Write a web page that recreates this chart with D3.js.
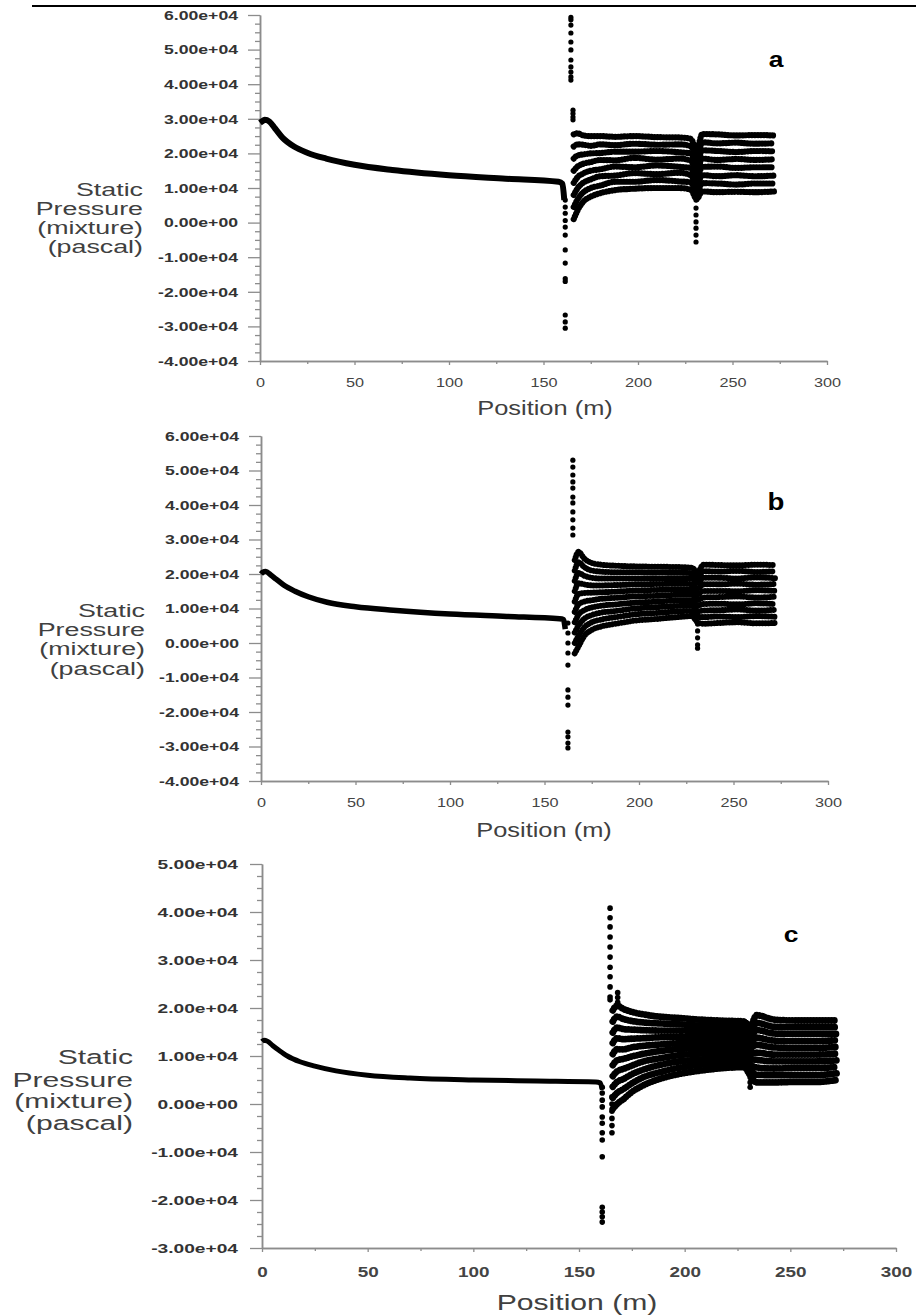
<!DOCTYPE html>
<html>
<head>
<meta charset="utf-8">
<script src="https://cdn.jsdelivr.net/npm/d3@7"></script>
<style>
  body { margin: 0; background: #fff; }
  svg text { font-family: Arial, "Liberation Sans", sans-serif; }
</style>
</head>
<body>
<svg width="916" height="1316"></svg>
<script>
//* Static pressure (mixture) along the pipe, three cases a, b, c
// pressures are in 1e4 Pa, positions in m

// smooth part of the profile (0 - 161 m)
const curvePos = [0, 1, 2.5, 5, 8, 12, 18, 25, 35, 50, 70, 100, 130, 158, 160, 161];
const curveA = [2.88, 2.92, 2.97, 2.92, 2.72, 2.45, 2.20, 2.02, 1.85, 1.67, 1.52, 1.37, 1.27, 1.18, 1.12, 0.65];
const curveB = [2.00, 2.05, 2.07, 1.98, 1.85, 1.68, 1.50, 1.34, 1.18, 1.05, 0.95, 0.84, 0.77, 0.70, 0.68, 0.40];
const curveC = [1.30, 1.33, 1.31, 1.22, 1.12, 1.00, 0.88, 0.79, 0.69, 0.60, 0.54, 0.50, 0.48, 0.46, 0.44, 0.30];

// isolated dot columns (spikes)
const dotPosA = [161.5, 164.5, 165.6, 230.7];
const dotValsA = [
  [0.65, 0.45, 0.27, 0.06, -0.13, -0.36, -0.79, -1.17, -1.62, -1.70, -2.67, -2.87, -3.05],
  [5.93, 5.86, 5.71, 5.48, 5.22, 4.99, 4.70, 4.50, 4.35, 4.21, 4.12],
  [3.25, 3.15, 3.05, 2.97],
  [0.65, 0.42, 0.22, 0.02, -0.16, -0.36, -0.56]
];
const dotPosB = [162.4, 165, 231];
const dotValsB = [
  [0.58, 0.29, 0.00, -0.29, -0.64, -1.36, -1.57, -1.80, -2.58, -2.72, -2.90, -3.04],
  [5.30, 5.10, 4.87, 4.67, 4.49, 4.23, 4.06, 3.80, 3.57, 3.33, 3.13],
  [0.55, 0.35, 0.15, -0.05, -0.15]
];
const dotPosC = [161, 164.7, 165.6, 168.3, 231];
const dotValsC = [
  [0.35, 0.23, 0.08, -0.06, -0.27, -0.40, -0.60, -0.75, -1.10, -2.15, -2.25, -2.35, -2.46],
  [4.08, 3.88, 3.69, 3.48, 3.27, 3.06, 2.85, 2.65, 2.44, 2.23, 2.17],
  [0.15, 0.00, -0.15, -0.30, -0.45, -0.60],
  [2.32, 2.22, 2.12],
  [0.70, 0.55, 0.45, 0.35]
];

// oscillating band after 166 m, one row per line of dots
const bandPos = [166, 168, 171, 175, 180, 188, 198, 210, 222, 228, 231, 234, 242, 252, 262, 272];
const bandA = [
  [2.55, 2.58, 2.52, 2.50, 2.50, 2.48, 2.50, 2.47, 2.46, 2.42, 2.08, 2.56, 2.55, 2.52, 2.53, 2.52],
  [2.20, 2.26, 2.25, 2.22, 2.26, 2.24, 2.28, 2.25, 2.26, 2.21, 1.88, 2.32, 2.29, 2.31, 2.28, 2.29],
  [1.85, 1.94, 1.97, 2.00, 2.01, 2.05, 2.05, 2.07, 2.03, 2.00, 1.68, 2.09, 2.07, 2.04, 2.07, 2.06],
  [1.50, 1.62, 1.70, 1.75, 1.81, 1.80, 1.87, 1.82, 1.85, 1.79, 1.48, 1.85, 1.81, 1.84, 1.81, 1.83],
  [1.15, 1.31, 1.42, 1.50, 1.54, 1.62, 1.60, 1.65, 1.61, 1.58, 1.28, 1.61, 1.62, 1.58, 1.60, 1.60],
  [0.80, 0.99, 1.15, 1.25, 1.34, 1.36, 1.43, 1.40, 1.44, 1.37, 1.08, 1.37, 1.34, 1.37, 1.34, 1.36],
  [0.45, 0.67, 0.87, 1.00, 1.07, 1.18, 1.18, 1.23, 1.19, 1.16, 0.88, 1.14, 1.13, 1.10, 1.13, 1.13],
  [0.10, 0.35, 0.60, 0.75, 0.85, 0.94, 0.98, 1.00, 1.00, 0.95, 0.68, 0.90, 0.88, 0.89, 0.88, 0.90]
];
const bandB = [
  [2.40, 2.64, 2.45, 2.32, 2.27, 2.24, 2.22, 2.21, 2.20, 2.18, 2.05, 2.27, 2.26, 2.25, 2.27, 2.26],
  [2.10, 2.34, 2.20, 2.10, 2.07, 2.05, 2.05, 2.04, 2.04, 2.02, 1.89, 2.08, 2.07, 2.09, 2.06, 2.08],
  [1.80, 2.03, 1.95, 1.89, 1.87, 1.87, 1.87, 1.87, 1.88, 1.87, 1.73, 1.89, 1.89, 1.87, 1.90, 1.88],
  [1.50, 1.73, 1.70, 1.67, 1.67, 1.68, 1.70, 1.71, 1.72, 1.71, 1.57, 1.70, 1.70, 1.72, 1.69, 1.71],
  [1.20, 1.42, 1.45, 1.46, 1.47, 1.49, 1.52, 1.54, 1.56, 1.56, 1.41, 1.51, 1.51, 1.50, 1.53, 1.51],
  [0.90, 1.12, 1.20, 1.24, 1.28, 1.31, 1.35, 1.37, 1.40, 1.40, 1.24, 1.32, 1.33, 1.35, 1.32, 1.34],
  [0.60, 0.82, 0.95, 1.03, 1.08, 1.12, 1.17, 1.20, 1.24, 1.24, 1.08, 1.13, 1.14, 1.12, 1.15, 1.13],
  [0.30, 0.51, 0.70, 0.81, 0.88, 0.93, 1.00, 1.04, 1.08, 1.09, 0.92, 0.94, 0.95, 0.97, 0.94, 0.96],
  [0.00, 0.21, 0.45, 0.60, 0.68, 0.75, 0.83, 0.87, 0.92, 0.93, 0.76, 0.75, 0.77, 0.75, 0.78, 0.76],
  [-0.30, -0.10, 0.20, 0.38, 0.48, 0.56, 0.65, 0.70, 0.76, 0.78, 0.60, 0.56, 0.58, 0.60, 0.57, 0.58]
];
const bandC = [
  [1.95, 2.05, 1.98, 1.92, 1.87, 1.82, 1.79, 1.75, 1.73, 1.72, 1.62, 1.85, 1.76, 1.74, 1.74, 1.74],
  [1.72, 1.82, 1.77, 1.73, 1.70, 1.68, 1.66, 1.63, 1.62, 1.61, 1.51, 1.69, 1.61, 1.60, 1.60, 1.60],
  [1.49, 1.59, 1.56, 1.55, 1.54, 1.53, 1.53, 1.52, 1.51, 1.51, 1.39, 1.54, 1.47, 1.46, 1.46, 1.46],
  [1.27, 1.37, 1.35, 1.36, 1.37, 1.39, 1.40, 1.40, 1.41, 1.40, 1.28, 1.38, 1.32, 1.31, 1.31, 1.33],
  [1.04, 1.14, 1.14, 1.18, 1.21, 1.24, 1.27, 1.29, 1.30, 1.30, 1.17, 1.23, 1.18, 1.17, 1.17, 1.19],
  [0.81, 0.91, 0.94, 0.99, 1.04, 1.10, 1.15, 1.17, 1.19, 1.19, 1.05, 1.07, 1.03, 1.03, 1.03, 1.05],
  [0.58, 0.68, 0.73, 0.80, 0.88, 0.95, 1.02, 1.06, 1.08, 1.09, 0.94, 0.92, 0.89, 0.89, 0.89, 0.91],
  [0.36, 0.46, 0.52, 0.62, 0.71, 0.81, 0.89, 0.94, 0.98, 0.98, 0.83, 0.76, 0.74, 0.75, 0.75, 0.77],
  [0.13, 0.23, 0.31, 0.43, 0.55, 0.66, 0.76, 0.83, 0.87, 0.88, 0.71, 0.61, 0.60, 0.60, 0.60, 0.64],
  [-0.10, 0.00, 0.10, 0.25, 0.38, 0.52, 0.63, 0.71, 0.76, 0.77, 0.60, 0.45, 0.45, 0.46, 0.46, 0.50]
];

const xTicks = [0, 50, 100, 150, 200, 250, 300];
const yLabelLines = ["Static", "Pressure", "(mixture)", "(pascal)"];

// layout of each panel
const panels = [
  { letter: "a", curve: curveA, dotPos: dotPosA, dotVals: dotValsA, band: bandA,
    xr: [260, 827], yr: [361, 15], yd: [-4, 6],
    tickFont: 12, tickSx: 1.47, tickGap: 22, xlabDy: 26, xTickFont: 13, xTickSx: 1.25, xTickBold: false,
    lab: { x: 143, ys: [196, 215, 234, 253], size: 18.5, sx: 1.45 },
    pos: { x: 545, y: 415, size: 20, sx: 1.27 },
    let: { x: 776, y: 67, size: 22 },
    lineW: 6, dotR: 2.6, bandR: 3.1 },
  { letter: "b", curve: curveB, dotPos: dotPosB, dotVals: dotValsB, band: bandB,
    xr: [261, 828], yr: [781, 436], yd: [-4, 6],
    tickFont: 12, tickSx: 1.47, tickGap: 22, xlabDy: 26, xTickFont: 13, xTickSx: 1.25, xTickBold: false,
    lab: { x: 145, ys: [617, 636, 655, 675], size: 18.5, sx: 1.45 },
    pos: { x: 544, y: 837, size: 20, sx: 1.27 },
    let: { x: 776, y: 510, size: 23 },
    lineW: 5.5, dotR: 2.6, bandR: 3.0 },
  { letter: "c", curve: curveC, dotPos: dotPosC, dotVals: dotValsC, band: bandC,
    xr: [262, 896], yr: [1248, 864], yd: [-3, 5],
    tickFont: 13.5, tickSx: 1.42, tickGap: 24, xlabDy: 29, xTickFont: 14, xTickSx: 1.35, xTickBold: true,
    lab: { x: 133, ys: [1064, 1087, 1108, 1130], size: 20.5, sx: 1.47 },
    pos: { x: 577, y: 1310, size: 22, sx: 1.37 },
    let: { x: 791, y: 942, size: 22 },
    lineW: 5, dotR: 2.8, bandR: 3.4 }
];

const svg = d3.select("svg");

// rule under the previous figure
svg.append("line")
  .attr("x1", 32).attr("x2", 916)
  .attr("y1", 6).attr("y2", 6)
  .attr("stroke", "#000")
  .attr("stroke-width", 2);

function sci(v) {
  // 6.00e+04 style labels
  return (v * 1e4).toExponential(2).replace(/e([+-])(\d)$/, "e$10$2");
}

function styleAxis(g) {
  g.select(".domain").attr("stroke", "#8c8c8c").attr("stroke-width", 1.5);
  g.selectAll(".tick line").attr("stroke", "#8c8c8c").attr("stroke-width", 1.3);
}

panels.forEach(p => {
  const x = d3.scaleLinear().domain([0, 300]).range(p.xr);
  const y = d3.scaleLinear().domain(p.yd).range(p.yr);
  const g = svg.append("g").classed("panel-" + p.letter, true);

  // y axis: majors every 1e4, minors every 2.5e3
  const major = d3.range(p.yd[0], p.yd[1] + 0.001, 1);
  const minor = d3.range(p.yd[0], p.yd[1] + 0.001, 0.25).filter(v => Math.abs(v - Math.round(v)) > 0.01);

  g.append("g")
    .attr("transform", `translate(${p.xr[0]},0)`)
    .call(d3.axisLeft(y).tickValues(minor).tickSize(5).tickSizeOuter(0).tickFormat(""))
    .call(styleAxis);

  const yAxis = g.append("g")
    .attr("transform", `translate(${p.xr[0]},0)`)
    .call(d3.axisLeft(y).tickValues(major).tickSize(12).tickSizeOuter(0).tickFormat(sci))
    .call(styleAxis);
  yAxis.selectAll("text")
    .attr("x", 0)
    .attr("dy", "0.36em")
    .attr("transform", `translate(${-p.tickGap},0) scale(${p.tickSx},1)`)
    .attr("font-size", p.tickFont)
    .attr("font-weight", "bold")
    .attr("fill", "#333");

  // x axis
  g.append("g")
    .attr("transform", `translate(0,${p.yr[0]})`)
    .call(d3.axisBottom(x).tickValues([25, 75, 125, 175, 225, 275]).tickSize(3).tickSizeOuter(0).tickFormat(""))
    .call(styleAxis);
  const xAxis = g.append("g")
    .attr("transform", `translate(0,${p.yr[0]})`)
    .call(d3.axisBottom(x).tickValues(xTicks).tickSize(4).tickSizeOuter(0))
    .call(styleAxis);
  xAxis.selectAll("text")
    .attr("y", p.xlabDy)
    .attr("dy", null)
    .attr("transform", `scale(${p.xTickSx},1)`)
    .attr("font-size", p.xTickFont)
    .attr("font-weight", p.xTickBold ? "bold" : "normal")
    .attr("fill", "#444");

  // axis titles
  const ylab = g.append("g");
  yLabelLines.forEach((t, i) => {
    ylab.append("text")
      .attr("transform", `translate(${p.lab.x},${p.lab.ys[i]}) scale(${p.lab.sx},1)`)
      .attr("text-anchor", "end")
      .attr("font-size", p.lab.size)
      .attr("fill", "#404040")
      .text(t);
  });
  g.append("text")
    .attr("transform", `translate(${p.pos.x},${p.pos.y}) scale(${p.pos.sx},1)`)
    .attr("text-anchor", "middle")
    .attr("font-size", p.pos.size)
    .attr("fill", "#404040")
    .text("Position (m)");

  // panel letter
  g.append("text")
    .attr("transform", `translate(${p.let.x},${p.let.y}) scale(1.2,1)`)
    .attr("text-anchor", "middle")
    .attr("font-size", p.let.size)
    .attr("font-weight", "bold")
    .attr("fill", "#000")
    .text(p.letter);

  // smooth decaying profile
  const line = d3.line()
    .x((d, i) => x(curvePos[i]))
    .y(d => y(d))
    .curve(d3.curveMonotoneX);
  g.append("path")
    .datum(p.curve)
    .attr("d", line)
    .attr("fill", "none")
    .attr("stroke", "#000")
    .attr("stroke-width", p.lineW)
    .attr("stroke-linejoin", "round");

  // band rows, drawn as strings of dots
  const rowLine = d3.line()
    .x((d, i) => x(bandPos[i]))
    .y(d => y(d))
    .curve(d3.curveMonotoneX);
  g.append("g")
    .selectAll("path")
    .data(p.band)
    .join("path")
      .attr("d", rowLine)
      .attr("fill", "none")
      .attr("stroke", "#000")
      .attr("stroke-width", p.bandR * 2)
      .attr("stroke-linecap", "round")
      .attr("stroke-dasharray", "0.01 3");

  // spike dots
  const dots = p.dotVals.flatMap((vals, i) => vals.map(v => [p.dotPos[i], v]));
  g.append("g")
    .selectAll("circle")
    .data(dots)
    .join("circle")
      .attr("cx", d => x(d[0]))
      .attr("cy", d => y(d[1]))
      .attr("r", p.dotR)
      .attr("fill", "#000");
});
</script>
</body>
</html>
